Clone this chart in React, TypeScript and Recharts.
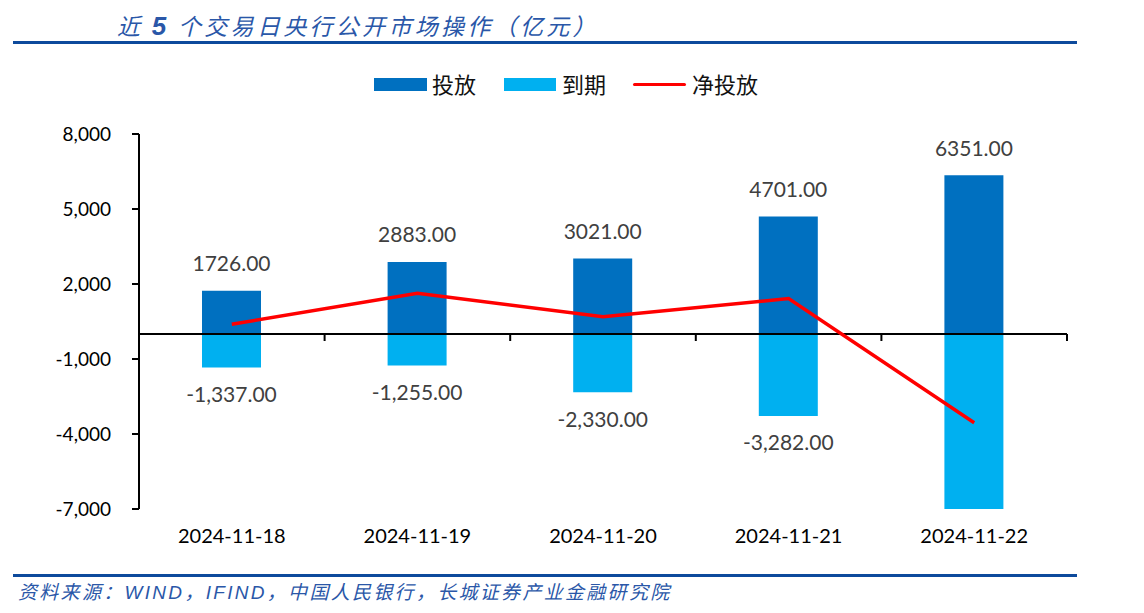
import React from "react";
import { ComposedChart, Bar, Line, XAxis, YAxis, ReferenceLine, LabelList } from "recharts";

const categories = ["2024-11-18", "2024-11-19", "2024-11-20", "2024-11-21", "2024-11-22"];
const injection = [1726, 2883, 3021, 4701, 6351];
const maturity = [-1337, -1255, -2330, -3282, -9901];
const netInjection = [389, 1628, 691, 1419, -3550];
const yTicks = [-7000, -4000, -1000, 2000, 5000, 8000];

const Y_MIN = -7000;
const Y_MAX = 8000;

const data = categories.map((c, i) => ({
  x: i + 0.5,
  name: c,
  inj: injection[i],
  mat: maturity[i],
  net: netInjection[i],
}));

const boundaries = [1, 2, 3, 4, 5];

const numFont = "Lato, 'Open Sans', 'Noto Sans', sans-serif";
const cjkFont = "'Noto Sans CJK SC', 'Noto Sans', sans-serif";

const fmtThousands = (v: number) =>
  v.toLocaleString("en-US", { minimumFractionDigits: 2, maximumFractionDigits: 2 });

const TopLabel = (props: any) => {
  const { x, y, width, height, value } = props;
  const top = Math.min(y, y + height);
  return (
    <text x={x + width / 2} y={top - 25} textAnchor="middle" dominantBaseline="middle"
      fill="#404040" fontSize={21} fontFamily={numFont}>
      {Number(value).toFixed(2)}
    </text>
  );
};

const BottomLabel = (props: any) => {
  const { x, y, width, height, value } = props;
  if (value < Y_MIN) return null;
  const bottom = Math.max(y, y + height);
  return (
    <text x={x + width / 2} y={bottom + 29} textAnchor="middle" dominantBaseline="middle"
      fill="#404040" fontSize={21} fontFamily={numFont}>
      {fmtThousands(Number(value))}
    </text>
  );
};

export default function App() {
  const blue = "#0d4a9c";
  return (
    <div style={{ position: "absolute", left: 0, top: 0, width: 1144, height: 613, background: "#fff" }}>
      <div style={{ position: "absolute", left: 117, top: 8, fontFamily: cjkFont, fontStyle: "italic",
        fontSize: 23, color: "#2a57a8", letterSpacing: 3.3, whiteSpace: "nowrap", lineHeight: "34px" }}>
        近 <span style={{ fontWeight: 700, fontSize: 26, fontFamily: "'Liberation Sans', sans-serif" }}>5</span> 个交易日央行公开市场操作（亿元）
      </div>
      <div style={{ position: "absolute", left: 13, top: 41, width: 1064, height: 3, background: blue }} />

      {/* legend */}
      <div style={{ position: "absolute", left: 0, top: 68, height: 30, width: 1144, fontFamily: cjkFont, fontSize: 22, color: "#111" }}>
        <div style={{ position: "absolute", left: 374, top: 10, width: 53, height: 13, background: "#0070c0" }} />
        <div style={{ position: "absolute", left: 432, top: 0, lineHeight: "30px" }}>投放</div>
        <div style={{ position: "absolute", left: 504, top: 10, width: 52, height: 13, background: "#00b0f0" }} />
        <div style={{ position: "absolute", left: 562, top: 0, lineHeight: "30px" }}>到期</div>
        <div style={{ position: "absolute", left: 633, top: 15, width: 53, height: 3, background: "#ff0000", borderRadius: 2 }} />
        <div style={{ position: "absolute", left: 692, top: 0, lineHeight: "30px" }}>净投放</div>
      </div>

      <div style={{ position: "absolute", left: 0, top: 0 }}>
        <ComposedChart width={1144} height={613} data={data} stackOffset="sign"
          margin={{ top: 134, right: 77, bottom: 74, left: 0 }}>
          <XAxis dataKey="x" type="number" domain={[0, 5]} ticks={[0.5, 1.5, 2.5, 3.5, 4.5]}
            tickFormatter={(v: number) => categories[Math.floor(v)]}
            axisLine={false} tickLine={false} tickSize={0} tickMargin={20} height={30}
            tick={{ fill: "#000", fontSize: 20, fontFamily: numFont }} interval={0} />
          <YAxis type="number" domain={[Y_MIN, Y_MAX]} ticks={yTicks} allowDataOverflow width={139}
            tickFormatter={(v: number) => v.toLocaleString("en-US")}
            axisLine={{ stroke: "#000", strokeWidth: 2 }} tickLine={{ stroke: "#000", strokeWidth: 2 }}
            tickSize={7} tickMargin={21}
            tick={{ fill: "#000", fontSize: 19, fontFamily: numFont }} interval={0} />
          <ReferenceLine y={0} stroke="#000" strokeWidth={2} />
          {boundaries.map((b) => (
            <ReferenceLine key={b} segment={[{ x: b, y: 0 }, { x: b, y: -280 }]} stroke="#000" strokeWidth={2} />
          ))}
          <Bar dataKey="inj" stackId="s" fill="#0070c0" barSize={59} isAnimationActive={false}>
            <LabelList dataKey="inj" content={TopLabel} />
          </Bar>
          <Bar dataKey="mat" stackId="s" fill="#00b0f0" barSize={57} isAnimationActive={false}>
            <LabelList dataKey="mat" content={BottomLabel} />
          </Bar>
          <Line dataKey="net" type="linear" stroke="#ff0000" strokeWidth={3.5} dot={false}
            isAnimationActive={false} />
        </ComposedChart>
      </div>

      <div style={{ position: "absolute", left: 13, top: 574, width: 1064, height: 3, background: blue }} />
      <div style={{ position: "absolute", left: 18, top: 578, fontFamily: cjkFont, fontStyle: "italic",
        fontSize: 19, letterSpacing: 2.3, color: "#2a57a8", whiteSpace: "nowrap", lineHeight: "26px" }}>
        资料来源：<span style={{ fontFamily: "'Liberation Sans', sans-serif" }}>WIND</span>，<span style={{ fontFamily: "'Liberation Sans', sans-serif" }}>IFIND</span>，中国人民银行，长城证券产业金融研究院
      </div>
    </div>
  );
}
